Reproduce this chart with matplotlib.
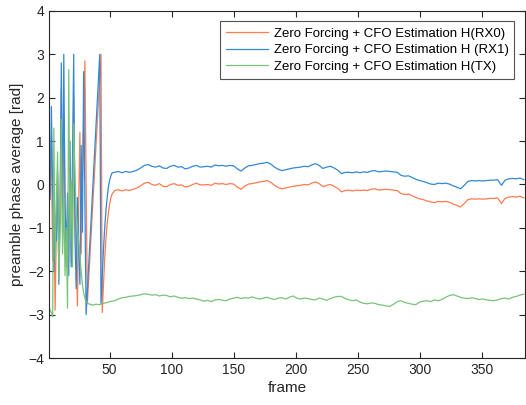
import numpy as np
import matplotlib
matplotlib.use('Agg')
import matplotlib.pyplot as plt

plt.rcParams['font.family'] = ['Liberation Sans', 'DejaVu Sans']

# early (phase wrapping) part, own frame positions per series
frames_rx0_head = [1, 2, 3, 4, 5, 6, 7, 8, 9, 10, 11, 12, 13, 14, 15, 16, 17, 18, 19, 20,
                   21, 22, 23, 24, 25, 26, 27, 28, 30, 32, 43, 44, 45, 46, 47, 48, 49, 50, 51, 52]
phase_rx0_head = [-0.35, -0.15, 1.1, -1.75, -0.6, -2.9, -1.0, 0.2, -1.5, -0.7, 2.2, -1.1, 1.6, -0.4,
                  -1.9, -0.8, -1.2, 0.4, -1.8, -0.9, 2.0, -0.6, -1.4, -2.8, -0.5, 1.2, -1.6, 0.1,
                  2.85, -2.75, 3.0, -2.95, -2.3, -1.7, -1.25, -0.9, -0.65, -0.45, -0.3, -0.22]

frames_rx1_head = [1, 2, 3, 4, 5, 6, 7, 8, 9, 10, 11, 12, 13, 14, 15, 16, 17, 18, 19, 20,
                   21, 22, 23, 24, 25, 26, 27, 28, 29, 30, 31, 42, 43, 44, 45, 46, 47, 48, 49,
                   50, 51, 52]
phase_rx1_head = [0.0, -0.35, 1.8, -0.2, -2.0, -0.7, -1.3, 0.3, -2.3, -0.6, 2.8, -0.9, 3.0, -0.5,
                  -1.6, -0.2, -2.1, 1.0, -1.9, 0.5, 3.0, -1.2, -2.4, -0.3, -1.5, -2.3, 0.9, -1.1,
                  2.6, -0.4, -3.0, 3.0, -2.75, -2.1, -1.5, -1.0, -0.6, -0.3, -0.05, 0.1, 0.2, 0.27]

frames_tx_head = [1, 2, 3, 4, 5, 6, 7, 8, 9, 10, 11, 12, 13, 14, 15, 16, 17, 18, 19, 20,
                  21, 22, 23, 24, 25, 26, 27, 28, 29, 30, 31, 33, 36, 39, 42, 45, 48, 50]
phase_tx_head = [-2.8, -2.9, -2.95, -3.05, 1.3, -1.7, -0.4, 0.75, -2.2, -1.0, 1.5, -1.6, -0.3,
                 -2.1, -1.0, -2.85, 2.65, -1.3, 0.1, -1.9, 1.4, 0.2, -0.6, -1.0, -1.3, -1.65,
                 -2.0, -2.3, -2.5, -2.62, -2.7, -2.75, -2.78, -2.76, -2.77, -2.74, -2.72, -2.70]

# settled part, every 3rd frame from 54 to 384
frames_tail = list(range(54, 385, 3))
phase_rx1_tail = [
    0.28, 0.30, 0.27, 0.30, 0.28, 0.30, 0.33, 0.38, 0.44, 0.46,
    0.42, 0.40, 0.43, 0.38, 0.37, 0.42, 0.44, 0.40, 0.41, 0.36,
    0.38, 0.42, 0.44, 0.40, 0.41, 0.42, 0.40, 0.45, 0.43, 0.44,
    0.42, 0.44, 0.43, 0.36, 0.31, 0.38, 0.43, 0.44, 0.46, 0.48,
    0.49, 0.51, 0.47, 0.40, 0.35, 0.32, 0.34, 0.36, 0.38, 0.39,
    0.40, 0.42, 0.41, 0.45, 0.48, 0.44, 0.37, 0.40, 0.42, 0.38,
    0.33, 0.25, 0.28, 0.28, 0.27, 0.29, 0.27, 0.29, 0.28, 0.31,
    0.32, 0.29, 0.30, 0.31, 0.30, 0.29, 0.28, 0.21, 0.19, 0.20,
    0.16, 0.12, 0.09, 0.07, 0.04, 0.01, 0.00, 0.03, 0.02, 0.03,
    0.01, -0.03, -0.06, -0.10, -0.02, 0.07, 0.09, 0.08, 0.09, 0.08,
    0.09, 0.10, 0.10, 0.11, -0.02, 0.10, 0.13, 0.14, 0.13, 0.15, 0.11]
phase_rx0_tail = [
    -0.14, -0.12, -0.15, -0.12, -0.14, -0.11, -0.08, -0.03, 0.03, 0.05,
    0.00, -0.02, 0.02, -0.04, -0.05, 0.00, 0.02, -0.02, -0.01, -0.06,
    -0.04, 0.00, 0.03, -0.01, -0.01, 0.00, -0.02, 0.03, 0.01, 0.02,
    0.00, 0.02, 0.01, -0.06, -0.11, -0.04, 0.01, 0.02, 0.04, 0.06,
    0.07, 0.09, 0.05, -0.02, -0.07, -0.10, -0.08, -0.06, -0.04, -0.03,
    -0.02, 0.00, -0.01, 0.03, 0.06, 0.02, -0.05, -0.02, 0.00, -0.04,
    -0.09, -0.17, -0.14, -0.13, -0.15, -0.13, -0.14, -0.13, -0.14, -0.11,
    -0.10, -0.13, -0.12, -0.11, -0.12, -0.13, -0.14, -0.21, -0.23, -0.22,
    -0.26, -0.30, -0.33, -0.35, -0.38, -0.40, -0.42, -0.39, -0.40, -0.39,
    -0.41, -0.45, -0.48, -0.52, -0.44, -0.35, -0.33, -0.34, -0.33, -0.34,
    -0.33, -0.32, -0.32, -0.31, -0.44, -0.32, -0.29, -0.28, -0.29, -0.27, -0.31]
phase_tx_tail = [
    -2.68, -2.64, -2.61, -2.60, -2.58, -2.57, -2.56, -2.54, -2.52, -2.53,
    -2.55, -2.54, -2.57, -2.55, -2.56, -2.59, -2.57, -2.60, -2.62, -2.61,
    -2.63, -2.62, -2.64, -2.66, -2.69, -2.67, -2.70, -2.66, -2.65, -2.67,
    -2.68, -2.64, -2.62, -2.60, -2.63, -2.61, -2.62, -2.59, -2.62, -2.64,
    -2.62, -2.60, -2.63, -2.65, -2.62, -2.61, -2.64, -2.60, -2.57, -2.62,
    -2.64, -2.62, -2.63, -2.65, -2.66, -2.62, -2.64, -2.67, -2.63, -2.60,
    -2.58, -2.58, -2.63, -2.66, -2.68, -2.66, -2.71, -2.74, -2.75, -2.73,
    -2.74, -2.77, -2.78, -2.80, -2.81, -2.76, -2.70, -2.68, -2.72, -2.74,
    -2.76, -2.77, -2.71, -2.69, -2.68, -2.70, -2.66, -2.68, -2.65, -2.60,
    -2.56, -2.54, -2.57, -2.60, -2.62, -2.63, -2.61, -2.63, -2.65, -2.64,
    -2.66, -2.67, -2.68, -2.66, -2.63, -2.62, -2.64, -2.60, -2.58, -2.55, -2.53]

labels = ['Zero Forcing + CFO Estimation H(RX0)',
          'Zero Forcing + CFO Estimation H (RX1)',
          'Zero Forcing + CFO Estimation H(TX)']
colors = ['#FF7B4F', '#3288D6', '#78C378']

fig = plt.figure(figsize=(5.26, 4.05), dpi=100)
ax = fig.add_axes([0.093, 0.116, 0.905, 0.857])

ax.plot(frames_rx0_head + frames_tail, phase_rx0_head + phase_rx0_tail, color=colors[0], lw=0.9, label=labels[0])
ax.plot(frames_rx1_head + frames_tail, phase_rx1_head + phase_rx1_tail, color=colors[1], lw=0.9, label=labels[1])
ax.plot(frames_tx_head + frames_tail, phase_tx_head + phase_tx_tail, color=colors[2], lw=0.9, label=labels[2])

ax.set_xlim(1, 385)
ax.set_ylim(-4, 4)
ax.set_xticks([50, 100, 150, 200, 250, 300, 350])
ax.set_yticks([-4, -3, -2, -1, 0, 1, 2, 3, 4])
ax.tick_params(direction='in', top=True, right=True, length=4, width=0.8,
               labelsize=10, colors='#262626')
for s in ax.spines.values():
    s.set_color('#262626')
    s.set_linewidth(0.8)

ax.set_xlabel('frame', fontsize=11, color='#262626', labelpad=3)
ax.set_ylabel('preamble phase average [rad]', fontsize=11, color='#262626', labelpad=3)

leg = ax.legend(loc='upper right', fontsize=9.5, frameon=True, fancybox=False,
                edgecolor='#262626', borderpad=0.45, labelspacing=0.32,
                handlelength=3.2, handletextpad=0.4, borderaxespad=0.8)
leg.get_frame().set_linewidth(0.8)

plt.savefig('out.png', dpi=100)
plt.close()
